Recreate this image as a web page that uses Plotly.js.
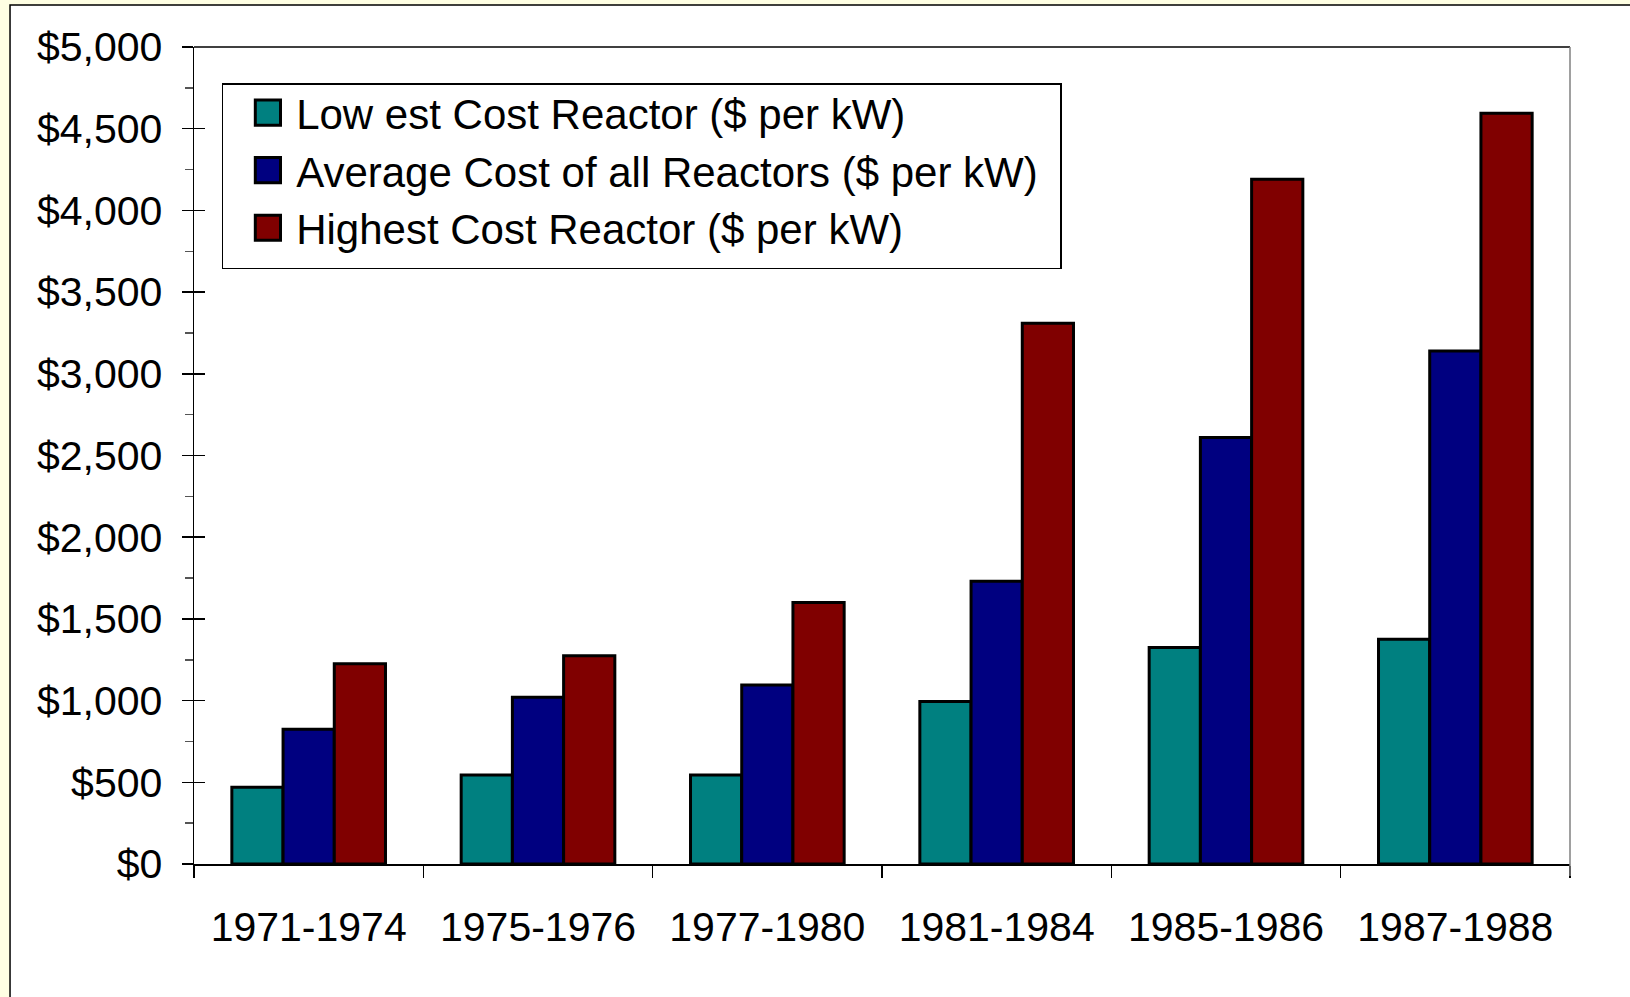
<!DOCTYPE html>
<html>
<head>
<meta charset="utf-8">
<script src="https://cdn.plot.ly/plotly-3.0.1.min.js"></script>
<style>
  html, body { margin: 0; padding: 0; background: #FFFFE3; }
  #chart { width: 1630px; height: 997px; }
</style>
</head>
<body>
<div id="chart"></div>
<script>
const categories = ["1971-1974", "1975-1976", "1977-1980", "1981-1984", "1985-1986", "1987-1988"];
const lowestCost  = [470, 545, 545, 995, 1325, 1375];
const averageCost = [825, 1020, 1095, 1730, 2610, 3140];
const highestCost = [1225, 1275, 1600, 3310, 4190, 4595];
const seriesNames = [
  "Low est Cost Reactor ($ per kW)",
  "Average Cost of all Reactors ($ per kW)",
  "Highest Cost Reactor ($ per kW)"
];
const yTickVals = [0, 500, 1000, 1500, 2000, 2500, 3000, 3500, 4000, 4500, 5000];
const yTickText = ["$0", "$500", "$1,000", "$1,500", "$2,000", "$2,500", "$3,000", "$3,500", "$4,000", "$4,500", "$5,000"];

const FONT = "Liberation Sans, Arial, Helvetica, sans-serif";
const barLine = { color: "#000000", width: 3 };

const traces = [
  { type: "bar", name: seriesNames[0], x: categories, y: lowestCost,  marker: { color: "#008080", line: barLine } },
  { type: "bar", name: seriesNames[1], x: categories, y: averageCost, marker: { color: "#000080", line: barLine } },
  { type: "bar", name: seriesNames[2], x: categories, y: highestCost, marker: { color: "#800000", line: barLine } },
  { type: "scatter", x: [], y: [], yaxis: "y2", showlegend: false, hoverinfo: "skip" }
];

const layout = {
  width: 1630, height: 997,
  margin: { l: 194, r: 60, t: 47, b: 133, pad: 0 },
  paper_bgcolor: "#FFFFE3",
  plot_bgcolor: "rgba(0,0,0,0)",
  font: { family: FONT, color: "#000000", size: 41 },
  barmode: "group",
  bargap: 0.33,
  bargroupgap: 0,
  showlegend: true,
  legend: {
    x: 0.0201, y: 0.9556, xanchor: "left", yanchor: "top",
    bgcolor: "#FFFFFF", bordercolor: "#000000", borderwidth: 1.5,
    font: { family: FONT, size: 42, color: "#000000" },
    itemwidth: 63,
    tracegroupgap: 0,
    traceorder: "normal"
  },
  xaxis: {
    type: "category",
    showline: true, linecolor: "#000000", linewidth: 1.5,
    ticks: "outside", tickson: "boundaries", ticklen: 12, tickcolor: "#000000", tickwidth: 1.5,
    showgrid: false, zeroline: false,
    tickfont: { family: FONT, size: 41, color: "#000000" },
    ticklabelstandoff: 26,
    fixedrange: true
  },
  yaxis: {
    range: [0, 5000],
    tickvals: yTickVals, ticktext: yTickText,
    showline: true, linecolor: "#000000", linewidth: 1.5,
    ticks: "outside", ticklen: 11, tickcolor: "#000000", tickwidth: 1.5,
    minor: { ticks: "outside", ticklen: 8, dtick: 250, tickcolor: "#555555", tickwidth: 1.5, showgrid: false },
    showgrid: false, zeroline: false,
    tickfont: { family: FONT, size: 41, color: "#000000" },
    ticklabelstandoff: 11,
    fixedrange: true
  },
  yaxis2: {
    overlaying: "y", side: "left", anchor: "x",
    range: [0, 5000], tickvals: yTickVals,
    showticklabels: false, showline: false, showgrid: false, zeroline: false,
    ticks: "inside", ticklen: 11, tickcolor: "#000000", tickwidth: 1.5,
    fixedrange: true
  },
  shapes: [
    { type: "rect", xref: "paper", yref: "paper", x0: -0.1337, x1: 1.06, y0: -0.2, y1: 1.0514,
      fillcolor: "#FFFFFF", line: { color: "#000000", width: 1.5 }, layer: "below" },
    { type: "line", xref: "paper", yref: "paper", x0: 0, x1: 1, y0: 1, y1: 1,
      line: { color: "#000000", width: 1.5 } },
    { type: "line", xref: "paper", yref: "paper", x0: 1, x1: 1, y0: -0.0147, y1: 1,
      line: { color: "#808080", width: 1.5 } }
  ]
};

function parseTranslate(str) {
  const m = /translate\(\s*([-\d.eE]+)[ ,]+([-\d.eE]+)\s*\)/.exec(str || "");
  return m ? [parseFloat(m[1]), parseFloat(m[2])] : [0, 0];
}

Plotly.newPlot("chart", traces, layout, { displayModeBar: false, staticPlot: true }).then(function (gd) {
  // nudge legend rows up slightly to match reference spacing
  document.querySelectorAll(".legend .traces").forEach(function (g) {
    const t = parseTranslate(g.getAttribute("transform"));
    g.setAttribute("transform", "translate(" + t[0] + "," + (t[1] - 6) + ")");
  });
  const bgEl = document.querySelector(".legend .bg");
  const bg = bgEl ? bgEl.getBoundingClientRect() : null;
  document.querySelectorAll(".legend .legendpoints path").forEach(function (p) {
    const parentCTM = p.parentNode.getScreenCTM();
    const ownCTM = p.getScreenCTM();
    const r = p.getBoundingClientRect();
    const cy = (r.top + r.bottom) / 2 - parentCTM.f;
    const dx = bg ? (bg.left + 45.5) - parentCTM.e : (ownCTM.e - parentCTM.e);
    p.setAttribute("transform", "translate(" + dx + "," + cy + ") scale(2.1)");
    p.style.vectorEffect = "non-scaling-stroke";
    p.style.strokeWidth = "3px";
    p.style.stroke = "#000000";
  });
  // widen the legend frame to the reference's box width
  if (bgEl) {
    const w = parseFloat(bgEl.getAttribute("width"));
    const target = 1062 - bg.left - 1;
    if (target > w) bgEl.setAttribute("width", target);
  }
});
</script>
</body>
</html>
